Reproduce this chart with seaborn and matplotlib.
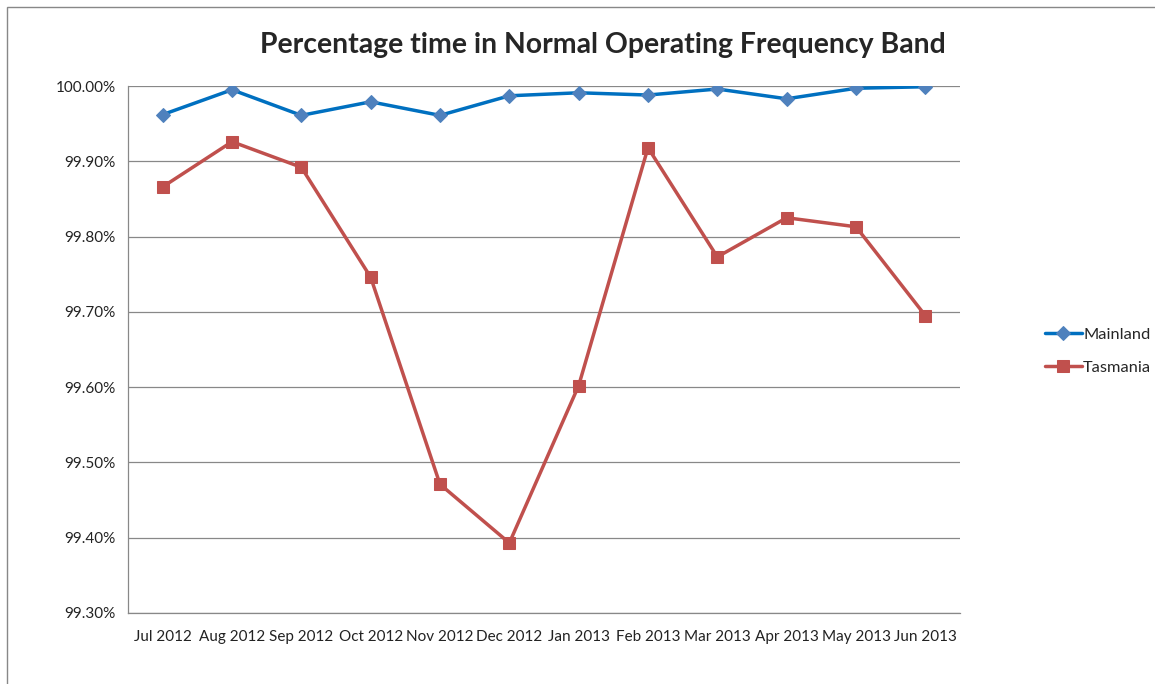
import matplotlib
matplotlib.use("Agg")
import matplotlib.pyplot as plt
import matplotlib.ticker as mticker
import pandas as pd
import seaborn as sns
from matplotlib.patches import Rectangle

months = ['Jul 2012', 'Aug 2012', 'Sep 2012', 'Oct 2012', 'Nov 2012', 'Dec 2012',
          'Jan 2013', 'Feb 2013', 'Mar 2013', 'Apr 2013', 'May 2013', 'Jun 2013']
mainland = [99.962, 99.995, 99.961, 99.979, 99.961, 99.987,
            99.991, 99.988, 99.996, 99.983, 99.997, 99.999]
tasmania = [99.866, 99.926, 99.892, 99.746, 99.471, 99.393,
            99.602, 99.918, 99.773, 99.825, 99.813, 99.695]

df = pd.DataFrame({'x': range(len(months)), 'Mainland': mainland, 'Tasmania': tasmania})

sns.set_style("white")
plt.rcParams['font.family'] = ['Lato', 'DejaVu Sans']

fig = plt.figure(figsize=(11.55, 6.84), dpi=100)
ax = fig.add_axes([128 / 1155, 1 - 613 / 684, 832 / 1155, 527 / 684])

sns.lineplot(data=df, x='x', y='Mainland', ax=ax, color='#0070C0', linewidth=2.5,
             marker='D', markersize=7, markerfacecolor='#4F81BD',
             markeredgecolor='#4F81BD', label='Mainland')
sns.lineplot(data=df, x='x', y='Tasmania', ax=ax, color='#C0504D', linewidth=2.5,
             marker='s', markersize=8, markerfacecolor='#C0504D',
             markeredgecolor='#C0504D', label='Tasmania')

ax.set_xlim(-0.5, len(months) - 0.5)
ax.set_ylim(99.3, 100.0)
ax.set_yticks([99.3 + 0.1 * i for i in range(8)])
ax.yaxis.set_major_formatter(mticker.FuncFormatter(lambda v, p: f"{v:.2f}%"))
ax.set_xticks(range(len(months)))
ax.set_xticklabels(months)
ax.set_xticks([i - 0.5 for i in range(len(months) + 1)], minor=True)
ax.tick_params(axis='x', which='major', length=0, labelsize=11, pad=12, colors='#222222')
ax.tick_params(axis='x', which='minor', length=5, color='#888888', direction='out')
ax.tick_params(axis='y', which='major', length=5, color='#888888', direction='out',
               labelsize=11, colors='#222222', pad=4)
ax.grid(axis='y', color='#888888', linewidth=0.9)
ax.set_axisbelow(True)
ax.set_xlabel('')
ax.set_ylabel('')
for side in ['top', 'right']:
    ax.spines[side].set_visible(False)
for side in ['left', 'bottom']:
    ax.spines[side].set_color('#888888')
    ax.spines[side].set_linewidth(0.9)

leg = ax.legend(loc='center left', bbox_to_anchor=(1.085, 0.497), frameon=False,
                fontsize=11.8, handlelength=2.2, handletextpad=0.1, labelspacing=1.1)

fig.text(603 / 1155, 1 - 45 / 684, 'Percentage time in Normal Operating Frequency Band',
         ha='center', va='center', fontsize=20.4, fontweight='bold')

fig.patches.append(Rectangle((7 / 1155, -0.1), 1.1, 1 - 7 / 684 + 0.1,
                             transform=fig.transFigure, fill=False,
                             edgecolor='#888888', linewidth=1))

fig.savefig('out.png', dpi=100)
